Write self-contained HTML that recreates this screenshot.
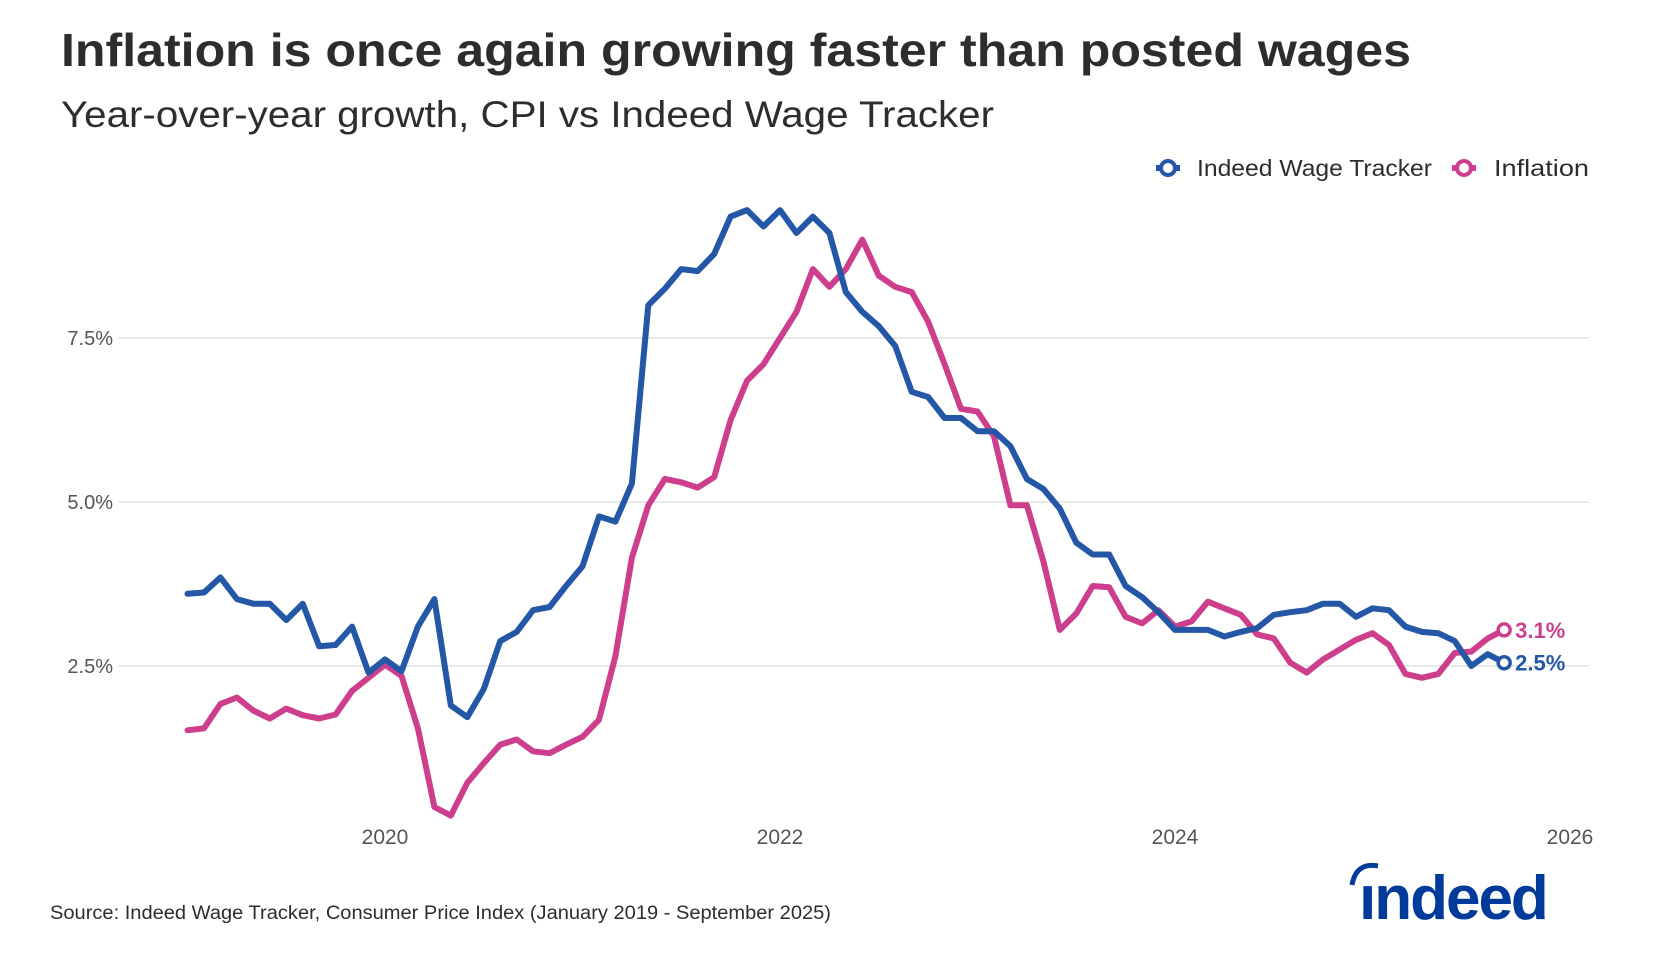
<!DOCTYPE html>
<html><head><meta charset="utf-8"><style>
html,body{margin:0;padding:0;background:#fff;}
svg{display:block;font-family:"Liberation Sans",sans-serif;}
</style></head><body>
<svg id="chart" width="1676" height="954" viewBox="0 0 1676 954">
<text x="61" y="66" font-size="46" font-weight="bold" fill="#2d2d2d" textLength="1350" lengthAdjust="spacingAndGlyphs">Inflation is once again growing faster than posted wages</text>
<text x="61" y="127" font-size="37" fill="#2d2d2d" textLength="933" lengthAdjust="spacingAndGlyphs">Year-over-year growth, CPI vs Indeed Wage Tracker</text>
<g>
<g>
<line x1="1156" y1="168" x2="1180" y2="168" stroke="#2557a7" stroke-width="6"/>
<circle cx="1168" cy="168" r="7" fill="#fff" stroke="#2557a7" stroke-width="4"/>
<text x="1197" y="176" font-size="23" fill="#2d2d2d" textLength="235" lengthAdjust="spacingAndGlyphs">Indeed Wage Tracker</text>
</g>
<g>
<line x1="1452" y1="168" x2="1476" y2="168" stroke="#cd3f8d" stroke-width="6"/>
<circle cx="1464" cy="168" r="7" fill="#fff" stroke="#cd3f8d" stroke-width="4"/>
<text x="1494" y="176" font-size="23" fill="#2d2d2d" textLength="95" lengthAdjust="spacingAndGlyphs">Inflation</text>
</g>
</g>
<g id="grid"></g>
<g id="series"></g>
<text x="50" y="919" font-size="19" fill="#2d2d2d" textLength="781" lengthAdjust="spacingAndGlyphs">Source: Indeed Wage Tracker, Consumer Price Index (January 2019 - September 2025)</text>
<g>
<path d="M1352 885 Q1356 862 1378 866" fill="none" stroke="#003a9b" stroke-width="5"/>
<text x="1359" y="919" font-size="62" font-weight="bold" fill="#003a9b" letter-spacing="-2">ındeed</text>
</g>
</svg>
<script>
const yTicks=[2.5,5.0,7.5];
const xTicks=[2020,2022,2024,2026];
const wage=[3.6,3.62,3.85,3.52,3.45,3.45,3.2,3.45,2.8,2.82,3.1,2.4,
2.6,2.42,3.1,3.52,1.9,1.72,2.15,2.88,3.02,3.35,3.4,3.72,
4.02,4.78,4.7,5.28,8.0,8.25,8.55,8.52,8.78,9.35,9.45,9.2,
9.45,9.1,9.35,9.1,8.2,7.9,7.68,7.38,6.68,6.6,6.28,6.28,
6.08,6.08,5.85,5.35,5.2,4.9,4.38,4.2,4.2,3.72,3.55,3.32,
3.05,3.05,3.05,2.95,3.02,3.08,3.28,3.32,3.35,3.45,3.45,3.25,
3.38,3.35,3.1,3.02,3.0,2.88,2.5,2.68,2.55];
const inflation=[1.52,1.55,1.92,2.02,1.82,1.7,1.85,1.75,1.7,1.76,2.12,2.32,
2.52,2.35,1.55,0.35,0.22,0.72,1.02,1.3,1.38,1.2,1.17,1.3,
1.42,1.68,2.65,4.15,4.95,5.35,5.3,5.22,5.38,6.25,6.85,7.1,
7.5,7.9,8.55,8.28,8.55,9.0,8.45,8.28,8.2,7.75,7.1,6.42,
6.38,6.0,4.95,4.95,4.1,3.05,3.3,3.72,3.7,3.25,3.15,3.35,
3.1,3.18,3.48,3.38,3.28,2.98,2.92,2.55,2.4,2.6,2.75,2.9,
3.0,2.82,2.38,2.32,2.38,2.7,2.72,2.92,3.05];
const endLabels=["2.5%","3.1%"];
const NS="http://www.w3.org/2000/svg";
const X=t=>385+(t-2020)*197.5;
const XM=i=>X(2019+i/12);
const Y=v=>830-v*65.6;
const grid=document.getElementById('grid'),ser=document.getElementById('series');
function mk(tag,at,parent){const e=document.createElementNS(NS,tag);for(const k in at)e.setAttribute(k,at[k]);parent.appendChild(e);return e;}
yTicks.forEach(v=>{
 const l=mk('line',{x1:118,x2:1589,y1:Y(v),y2:Y(v),stroke:'#dcdcdc','stroke-width':1.2},grid);
 
 
 const t=mk('text',{x:113,y:Y(v)+7,'text-anchor':'end','font-size':20,fill:'#555'},grid);
 t.textContent=v.toFixed(1)+'%';
 
 
});
xTicks.forEach(v=>{
 const t=mk('text',{x:X(v),y:844,'text-anchor':'middle','font-size':21,fill:'#555'},grid);
 t.textContent=v;
 
 
});
function line(data,color,name,lab){
 const d=data.map((v,i)=>(i?'L':'M')+XM(i).toFixed(1)+' '+Y(v).toFixed(1)).join(' ');
 const p=mk('path',{d:d,fill:'none',stroke:color,'stroke-width':6,'stroke-linejoin':'round','stroke-linecap':'round'},ser);
 
 
 const n=data.length-1;
 const c=mk('circle',{cx:XM(n),cy:Y(data[n]),r:6,fill:'#fff',stroke:color,'stroke-width':3.5},ser);
 
 
 const t=mk('text',{x:XM(n)+11,y:Y(data[n])+8,'font-size':22,'font-weight':'bold',fill:color},ser);
 t.textContent=lab;
 
 
}
line(inflation,'#cd3f8d','inflation',endLabels[1]);
line(wage,'#2557a7','wage-tracker',endLabels[0]);
</script>
</body></html>
